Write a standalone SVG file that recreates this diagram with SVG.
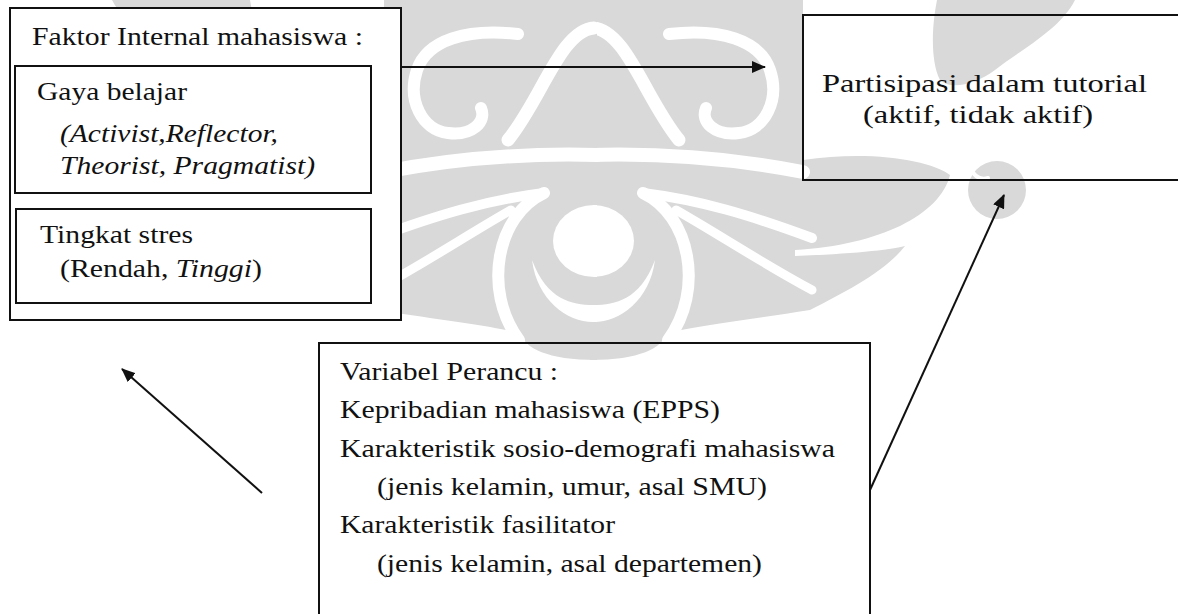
<svg xmlns="http://www.w3.org/2000/svg" xmlns:xlink="http://www.w3.org/1999/xlink" width="1178" height="614" viewBox="0 0 1178 614">
  <style>
    .wm { fill: #d9d9d9; }
    .wl { fill: none; stroke: #ffffff; stroke-linecap: round; }
    .box { fill: none; stroke: #111111; stroke-width: 2; }
    .solid { fill: #ffffff; stroke: #111111; stroke-width: 2; }
    .conn { fill: none; stroke: #111111; stroke-width: 2; }
    .t { font-family: "Liberation Serif", "DejaVu Serif", "Times New Roman", serif; font-size: 25px; fill: #111111; }
    .it { font-style: italic; }
  </style>
  <defs>
    <marker id="head" viewBox="0 0 14 12" refX="13" refY="6" markerWidth="14" markerHeight="12" markerUnits="userSpaceOnUse" orient="auto">
      <path d="M0,0 L14,6 L0,12 Z" fill="#111111"/>
    </marker>
    <!-- right half of the background emblem; the left half is its mirror image -->
    <g id="emblemHalf">
      <!-- body -->
      <path class="wm" d="M590 0 H803 V160 C870 150 930 160 950 175 C940 215 880 245 795 250 L795 256 C850 254 890 250 905 246 C885 272 845 292 810 310 C760 318 700 325 667 333 C662 348 640 360 590 360 Z"/>
      <!-- upper wing hook and its drop-shaped end -->
      <path class="wm" d="M937 0 H1075 C1060 30 1020 50 995 70 C975 85 950 90 940 80 C930 60 932 25 937 0 Z"/>
      <circle class="wm" cx="997" cy="190" r="29"/>
      <path class="wl" stroke-width="4" d="M970 168 C975 178 982 180 988 178"/>
      <!-- white tracery -->
      <path class="wl" stroke-width="13" d="M593 28 C626 30 646 100 679 140"/>
      <path class="wl" stroke-width="12" d="M669 34 C720 28 760 40 770 70 C780 100 765 130 739 133 C715 136 700 122 706 108"/>
      <path class="wl" stroke-width="14" d="M590 155 Q700 152 803 172"/>
      <path class="wl" stroke-width="12" d="M643 193 C690 215 705 290 668 340"/>
      <path class="wl" stroke-width="10" d="M643 193 C700 200 750 215 812 238"/>
      <path class="wl" stroke-width="9" d="M676 210 C720 235 760 262 812 290"/>
      <path d="M590 205 L593 205 A41 36 0 0 1 634 241 A41 36 0 0 1 593 277 L590 277 Z" fill="#ffffff"/>
      <path d="M590 322 L594 322 C620 322 650 300 655 260 C640 300 615 305 594 305 L590 305 Z" fill="#ffffff"/>
    </g>
  </defs>

  <rect width="1178" height="614" fill="#ffffff"/>

  <!-- background emblem -->
  <g id="emblem">
    <use xlink:href="#emblemHalf"/>
    <use xlink:href="#emblemHalf" transform="translate(1187,0) scale(-1,1)"/>
  </g>

  <!-- internal student factors -->
  <g id="node-faktor-internal">
    <rect class="solid" x="10" y="8" width="391" height="312"/>
    <text class="t" x="32" y="45" textLength="331" lengthAdjust="spacingAndGlyphs">Faktor Internal mahasiswa :</text>
  </g>
  <g id="node-gaya-belajar">
    <rect class="box" x="15" y="66" width="356" height="127"/>
    <text class="t" x="37" y="100" textLength="150" lengthAdjust="spacingAndGlyphs">Gaya belajar</text>
    <text class="t it" x="60" y="142" textLength="218" lengthAdjust="spacingAndGlyphs">(Activist,Reflector,</text>
    <text class="t it" x="60" y="174" textLength="255" lengthAdjust="spacingAndGlyphs">Theorist, Pragmatist)</text>
  </g>
  <g id="node-tingkat-stres">
    <rect class="box" x="16" y="209" width="355" height="94"/>
    <text class="t" x="40" y="243" textLength="153" lengthAdjust="spacingAndGlyphs">Tingkat stres</text>
    <text class="t" x="60" y="277" textLength="202" lengthAdjust="spacingAndGlyphs">(Rendah, <tspan class="it">Tinggi</tspan>)</text>
  </g>

  <!-- outcome -->
  <g id="node-partisipasi">
    <rect class="box" x="803" y="15" width="390" height="165"/>
    <text class="t" x="822" y="92" textLength="325" lengthAdjust="spacingAndGlyphs">Partisipasi dalam tutorial</text>
    <text class="t" x="863" y="123" textLength="230" lengthAdjust="spacingAndGlyphs">(aktif, tidak aktif)</text>
  </g>

  <!-- confounders -->
  <g id="node-variabel-perancu">
    <rect class="box" x="319" y="343" width="551" height="300"/>
    <text class="t" x="340" y="380" textLength="218" lengthAdjust="spacingAndGlyphs">Variabel Perancu :</text>
    <text class="t" x="340" y="418" textLength="380" lengthAdjust="spacingAndGlyphs">Kepribadian mahasiswa (EPPS)</text>
    <text class="t" x="340" y="457" textLength="495" lengthAdjust="spacingAndGlyphs">Karakteristik sosio-demografi mahasiswa</text>
    <text class="t" x="377" y="495" textLength="390" lengthAdjust="spacingAndGlyphs">(jenis kelamin, umur, asal SMU)</text>
    <text class="t" x="340" y="533" textLength="275" lengthAdjust="spacingAndGlyphs">Karakteristik fasilitator</text>
    <text class="t" x="377" y="572" textLength="385" lengthAdjust="spacingAndGlyphs">(jenis kelamin, asal departemen)</text>
  </g>

  <!-- connectors -->
  <g id="connectors">
    <line class="conn" x1="401" y1="67" x2="765" y2="67" marker-end="url(#head)"/>
    <line class="conn" x1="870" y1="490" x2="1004" y2="195" marker-end="url(#head)"/>
    <line class="conn" x1="262" y1="493" x2="122" y2="369" marker-end="url(#head)"/>
  </g>
</svg>
